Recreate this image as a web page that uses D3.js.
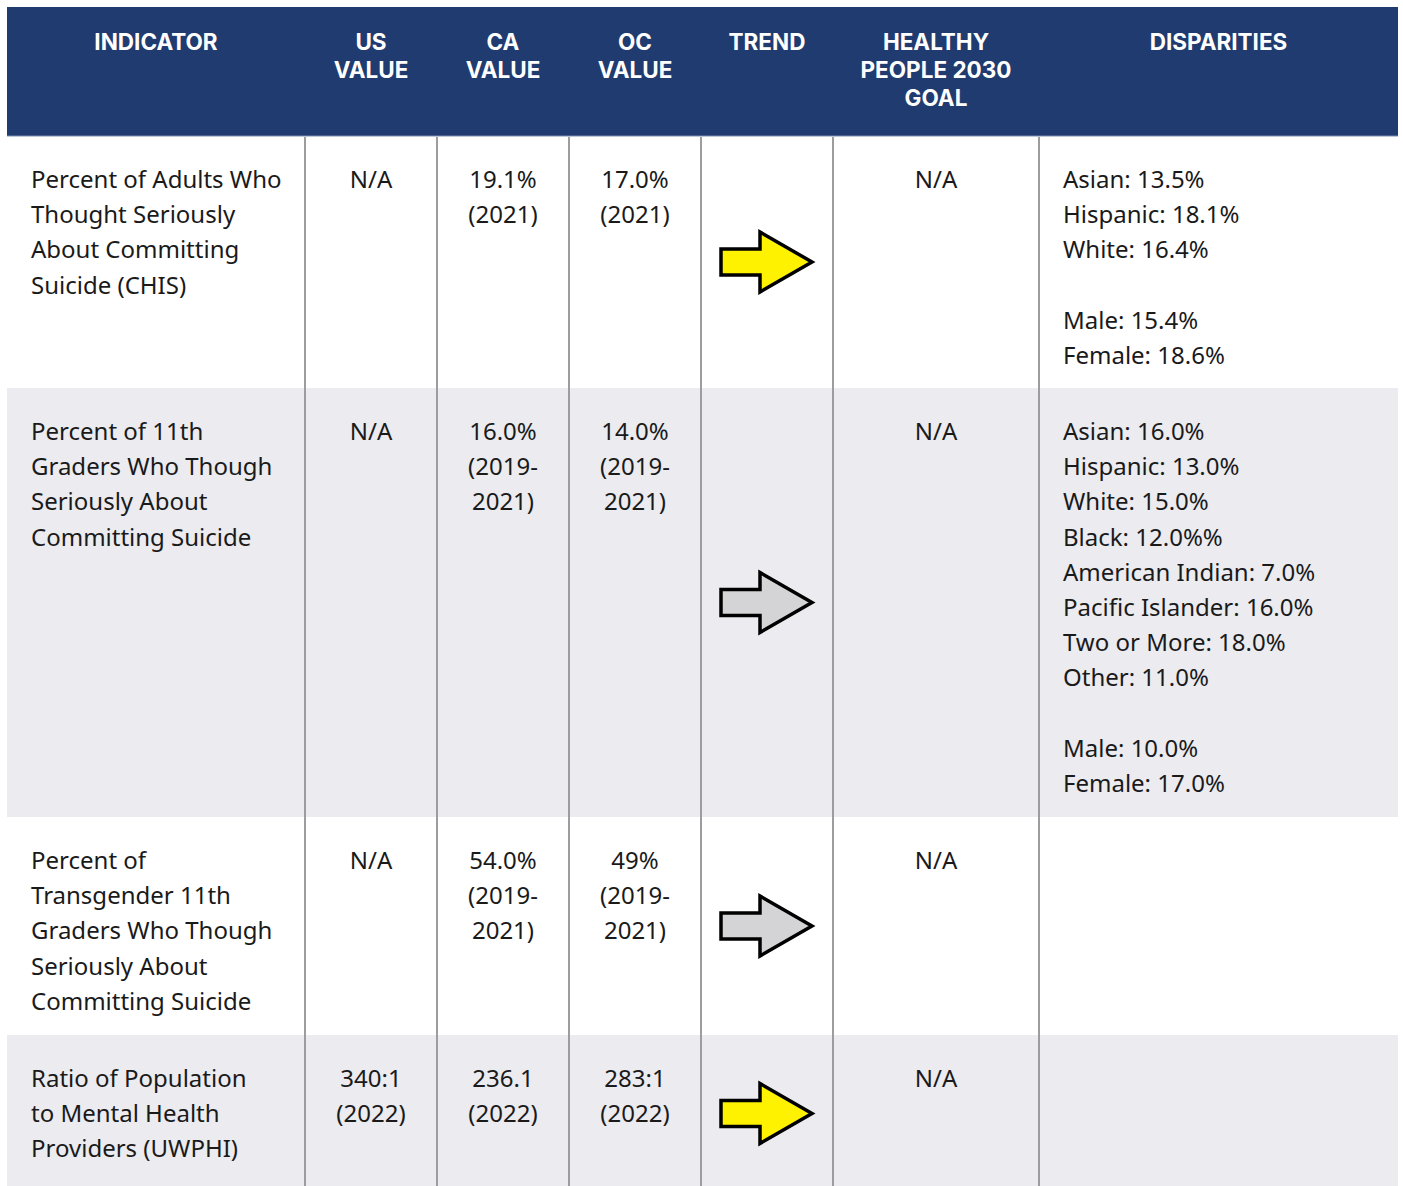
<!DOCTYPE html>
<html>
<head>
<meta charset="utf-8">
<script src="https://cdn.jsdelivr.net/npm/d3@7.9.0/dist/d3.min.js"></script>
<style>
  body { margin: 0; background: #fff; }
  svg { display: block; }
</style>
</head>
<body>
<svg id="chart" width="1403" height="1186"></svg>
<script>
// table data
const headers = [["INDICATOR"], ["US", "VALUE"], ["CA", "VALUE"], ["OC", "VALUE"], ["TREND"], ["HEALTHY", "PEOPLE 2030", "GOAL"], ["DISPARITIES"]];
const indicators = [
  ["Percent of Adults Who", "Thought Seriously", "About Committing", "Suicide (CHIS)"],
  ["Percent of 11th", "Graders Who Though", "Seriously About", "Committing Suicide"],
  ["Percent of", "Transgender 11th", "Graders Who Though", "Seriously About", "Committing Suicide"],
  ["Ratio of Population", "to Mental Health", "Providers (UWPHI)"]
];
const usValues = [["N/A"], ["N/A"], ["N/A"], ["340:1", "(2022)"]];
const caValues = [["19.1%", "(2021)"], ["16.0%", "(2019-", "2021)"], ["54.0%", "(2019-", "2021)"], ["236.1", "(2022)"]];
const ocValues = [["17.0%", "(2021)"], ["14.0%", "(2019-", "2021)"], ["49%", "(2019-", "2021)"], ["283:1", "(2022)"]];
const trends = ["worse", "same", "same", "worse"];
const goals = [["N/A"], ["N/A"], ["N/A"], ["N/A"]];
const disparities = [
  ["Asian: 13.5%", "Hispanic: 18.1%", "White: 16.4%", "", "Male: 15.4%", "Female: 18.6%"],
  ["Asian: 16.0%", "Hispanic: 13.0%", "White: 15.0%", "Black: 12.0%%", "American Indian: 7.0%", "Pacific Islander: 16.0%", "Two or More: 18.0%", "Other: 11.0%", "", "Male: 10.0%", "Female: 17.0%"],
  [],
  []
];

// layout
const colEdges = [7, 305, 437, 569, 701, 833, 1039, 1398];
const headTop = 7, headBottom = 136;
const rowEdges = [136, 388, 817, 1035, 1192];
const lineH = 35.2;
const trendFill = { worse: "#fff200", same: "#d4d4d6" };

const svg = d3.select("#chart");
const bodyFont = "'Noto Sans', sans-serif";

// header
svg.append("rect")
  .attr("x", colEdges[0]).attr("y", headTop)
  .attr("width", colEdges[7] - colEdges[0]).attr("height", headBottom - headTop)
  .attr("fill", "#1f3b70");

headers.forEach((lines, c) => {
  const cx = (colEdges[c] + colEdges[c + 1]) / 2;
  const t = svg.append("text")
    .attr("x", cx).attr("text-anchor", "middle")
    .attr("font-family", "Inter, sans-serif").attr("font-weight", 700)
    .attr("font-size", 22.5).attr("fill", "#fff");
  lines.forEach((l, i) => {
    t.append("tspan").attr("x", cx).attr("y", 50 + i * 28).text(l);
  });
});

// row backgrounds
const rows = d3.range(indicators.length);
svg.selectAll("rect.row").data(rows).join("rect")
  .attr("class", "row")
  .attr("x", colEdges[0]).attr("y", i => rowEdges[i])
  .attr("width", colEdges[7] - colEdges[0])
  .attr("height", i => rowEdges[i + 1] - rowEdges[i])
  .attr("fill", i => i % 2 ? "#ebebf0" : "#fff");

// column separators
svg.selectAll("line.sep").data(colEdges.slice(1, 7)).join("line")
  .attr("class", "sep")
  .attr("x1", d => d).attr("x2", d => d)
  .attr("y1", headBottom + 1).attr("y2", 1186)
  .attr("stroke", "#9d9da0").attr("stroke-width", 2);

svg.append("line")
  .attr("x1", colEdges[0]).attr("x2", colEdges[7])
  .attr("y1", headBottom).attr("y2", headBottom)
  .attr("stroke", "#7d8fb0").attr("stroke-width", 1);

function cellText(lines, r, x, anchor) {
  const t = svg.append("text")
    .attr("text-anchor", anchor)
    .attr("font-family", bodyFont).attr("font-size", 24)
    .attr("fill", "#1a1a1a");
  lines.forEach((l, i) => {
    if (l === "") return;
    t.append("tspan").attr("x", x).attr("y", rowEdges[r] + 52 + i * lineH).text(l);
  });
}

const mid = c => (colEdges[c] + colEdges[c + 1]) / 2;

rows.forEach(r => {
  cellText(indicators[r], r, 31, "start");
  cellText(usValues[r], r, mid(1), "middle");
  cellText(caValues[r], r, mid(2), "middle");
  cellText(ocValues[r], r, mid(3), "middle");
  cellText(goals[r], r, mid(5), "middle");
  cellText(disparities[r], r, 1063, "start");
});

// trend arrows
const arrow = d3.line();
rows.forEach(r => {
  const cx = mid(4), cy = (rowEdges[r] + Math.min(rowEdges[r + 1], 1186)) / 2 + (r === 3 ? 3 : 0);
  const pts = [
    [cx - 46, cy - 13], [cx - 7, cy - 13], [cx - 7, cy - 30],
    [cx + 45, cy], [cx - 7, cy + 30], [cx - 7, cy + 13], [cx - 46, cy + 13]
  ];
  svg.append("path")
    .attr("d", arrow(pts) + "Z")
    .attr("fill", trendFill[trends[r]])
    .attr("stroke", "#000").attr("stroke-width", 3.5)
    .attr("stroke-linejoin", "miter");
});
</script>
</body>
</html>
